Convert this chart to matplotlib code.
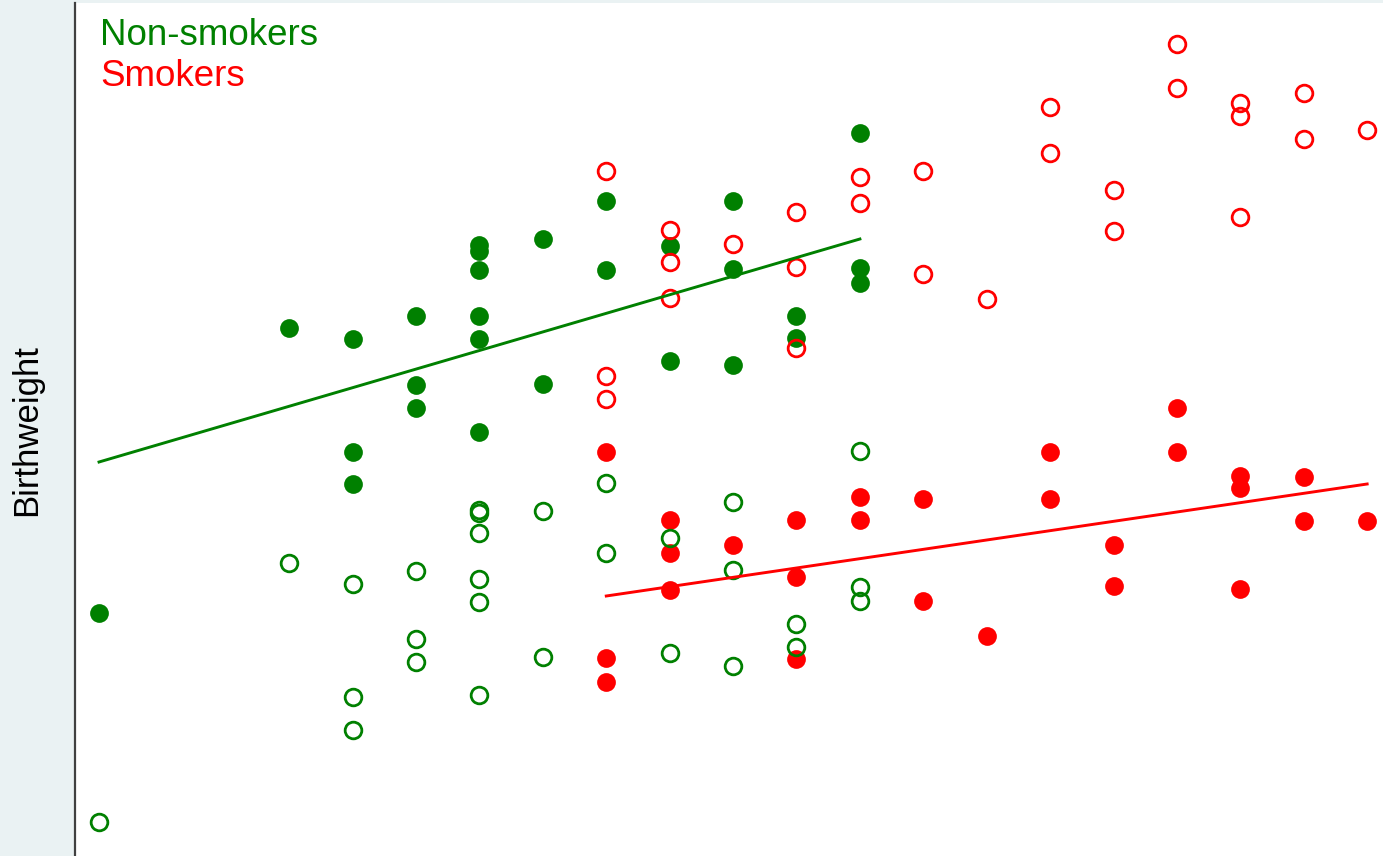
import matplotlib.pyplot as plt

plt.rcParams['font.family'] = ['Liberation Sans', 'DejaVu Sans']

# x positions (column index), y = birthweight (arbitrary units)
nonsm_filled_x = [0, 3, 4, 4, 4, 5, 5, 5, 6, 6, 6, 6, 6, 6, 7, 7, 8, 8, 9, 9,
                  10, 10, 10, 11, 11, 12, 12, 12]
nonsm_filled_y = [243, 528, 517, 404, 372, 540, 471, 448, 611, 605, 586, 540, 517, 424,
                  617, 472, 655, 586, 610, 495, 655, 587, 491, 540, 518, 723, 588, 573]

nonsm_open_x = [0, 3, 4, 4, 4, 5, 5, 5, 6, 6, 6, 6, 6, 6, 7, 7, 8, 8, 9, 9,
                10, 10, 10, 11, 11, 12, 12, 12]
nonsm_open_y = [34, 293, 272, 159, 126, 285, 217, 194, 346, 343, 323, 277, 254, 161,
                345, 199, 373, 303, 318, 203, 354, 286, 190, 232, 209, 405, 269, 255]

smk_filled_x = [8, 8, 8, 9, 9, 9, 10, 11, 11, 11, 12, 12, 13, 13, 14, 15, 15,
                16, 16, 17, 17, 18, 18, 18, 19, 19, 20]
smk_filled_y = [404, 198, 174, 336, 303, 266, 311, 336, 279, 197, 359, 336, 357, 255,
                220, 404, 357, 311, 270, 448, 404, 380, 368, 267, 379, 335, 335]

smk_open_x = [8, 8, 8, 9, 9, 9, 10, 11, 11, 11, 12, 12, 13, 13, 14, 15, 15,
              16, 16, 17, 17, 18, 18, 18, 19, 19, 20]
smk_open_y = [685, 480, 457, 626, 594, 558, 612, 644, 589, 508, 679, 653, 685, 582,
              557, 749, 703, 666, 625, 812, 768, 753, 740, 639, 763, 717, 726]

# fitted lines (end points)
nonsm_fit_x = [0, 12]
nonsm_fit_y = [394, 617]
smk_fit_x = [8, 20]
smk_fit_y = [260, 372]

green = '#008000'
red = '#ff0000'

fig = plt.figure(figsize=(13.83, 8.56), dpi=100)
fig.patch.set_facecolor('#eaf2f3')
ax = fig.add_axes([75 / 1383, 0, 1308 / 1383, 853 / 856])
ax.set_facecolor('white')

ax.plot(nonsm_filled_x, nonsm_filled_y, 'o', color=green, ms=13.5, mec=green, mew=0)
ax.plot(smk_filled_x, smk_filled_y, 'o', color=red, ms=13.5, mec=red, mew=0)
ax.plot(nonsm_open_x, nonsm_open_y, 'o', mfc='none', mec=green, ms=12, mew=2)
ax.plot(smk_open_x, smk_open_y, 'o', mfc='none', mec=red, ms=12, mew=2)

ax.plot(nonsm_fit_x, nonsm_fit_y, color=green, lw=2.1)
ax.plot(smk_fit_x, smk_fit_y, color=red, lw=2.1)

ax.set_xlim(-0.379, 20.25)
ax.set_ylim(0, 853)
ax.set_xticks([])
ax.set_yticks([])
for side in ['top', 'right', 'bottom']:
    ax.spines[side].set_visible(False)
ax.spines['left'].set_color('#404040')
ax.spines['left'].set_linewidth(1.6)

ax.text(0.019, 0.983, 'Non-smokers', color=green, fontsize=26.5,
        transform=ax.transAxes, va='top', ha='left')
ax.text(0.019, 0.934, 'Smokers', color=red, fontsize=26.5,
        transform=ax.transAxes, va='top', ha='left')

fig.text(27 / 1383, 1 - 430 / 856, 'Birthweight', rotation=90, fontsize=25,
         ha='center', va='center', color='black')

fig.savefig('out.png', dpi=100, facecolor=fig.get_facecolor())
